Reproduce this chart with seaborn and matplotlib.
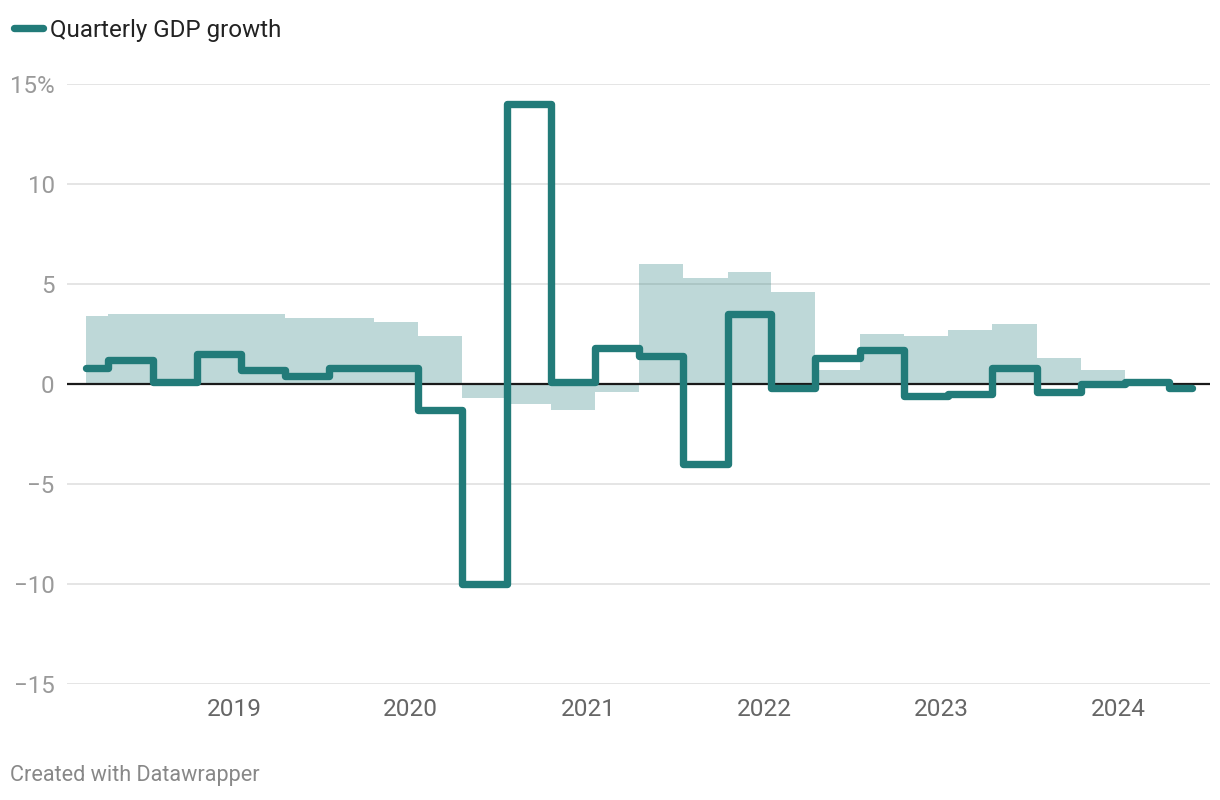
import matplotlib
matplotlib.use("Agg")
import matplotlib.pyplot as plt
import seaborn as sns
import pandas as pd

# quarterly observations (Mar/Jun/Sep/Dec 2018 .. Jun 2024)
dates = pd.date_range("2018-03-01", periods=26, freq="3MS")
quarterly = [0.8, 1.2, 0.1, 1.5, 0.7, 0.4, 0.8, 0.8, -1.3, -10.0, 14.0, 0.1, 1.8,
             1.4, -4.0, 3.5, -0.2, 1.3, 1.7, -0.6, -0.5, 0.8, -0.4, 0.0, 0.1, -0.2]
# shaded series (year-on-year), one value shorter
annual = [3.4, 3.5, 3.5, 3.5, 3.5, 3.3, 3.3, 3.1, 2.4, -0.7, -1.0, -1.3, -0.4,
          6.0, 5.3, 5.6, 4.6, 0.7, 2.5, 2.4, 2.7, 3.0, 1.3, 0.7, 0.1]
year_ticks = [2019, 2020, 2021, 2022, 2023, 2024]
y_ticks = [15, 10, 5, 0, -5, -10, -15]
y_labels = ["15%", "10", "5", "0", "\u22125", "\u221210", "\u221215"]

df = pd.DataFrame({"date": dates, "growth": quarterly})

teal = "#227b79"

sns.set_theme(style="white")
plt.rcParams["font.family"] = ["Roboto", "DejaVu Sans"]

fig = plt.figure(figsize=(12.2, 8), dpi=100)
ax = fig.add_axes([67 / 1220, 116 / 800, (1210 - 67) / 1220, 600 / 800])

ax.fill_between(dates[:len(annual)], annual, 0, step="mid", color=teal,
                alpha=0.29, linewidth=0, zorder=1)
ax.axhline(0, color="#1a1a1a", lw=1.6, zorder=2)
sns.lineplot(data=df, x="date", y="growth", ax=ax, drawstyle="steps-mid",
             color=teal, lw=5.3, solid_capstyle="round", solid_joinstyle="round",
             label="Quarterly GDP growth", zorder=3)

ax.set_ylim(-15, 15)
ax.set_xlim(pd.Timestamp("2019-01-01") - pd.Timedelta(days=345),
            pd.Timestamp("2024-01-01") + pd.Timedelta(days=190))
ax.set_yticks(y_ticks)
ax.set_yticklabels(y_labels)
ax.set_xticks([pd.Timestamp(f"{y}-01-01") for y in year_ticks])
ax.set_xticklabels([str(y) for y in year_ticks])
ax.grid(axis="y", color="#e3e3e3", lw=1.3, zorder=0)
ax.grid(axis="x", visible=False)
ax.set_axisbelow(True)
ax.tick_params(axis="y", length=0, pad=9, labelsize=17.4, labelcolor="#9a9a9a")
ax.tick_params(axis="x", length=0, pad=10, labelsize=17.6, labelcolor="#666666")
for lbl in ax.get_yticklabels():
    lbl.set_horizontalalignment("right")
ax.set_xlabel("")
ax.set_ylabel("")
sns.despine(ax=ax, left=True, bottom=True)

ax.legend(loc="center left", bbox_to_anchor=(14 / 1220, 1 - 30 / 800),
          bbox_transform=fig.transFigure, frameon=False, fontsize=17.4,
          handlelength=1.2, handletextpad=0.27, borderpad=0, borderaxespad=0,
          labelcolor="#222222")

fig.text(10 / 1220, 1 - 776 / 800, "Created with Datawrapper", fontsize=15.6,
         color="#888888", va="center", ha="left")

fig.savefig("out.png", dpi=100)
